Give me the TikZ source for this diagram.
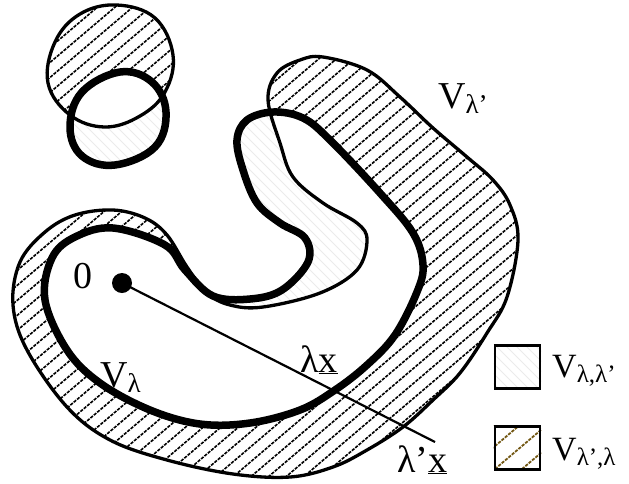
\documentclass[tikz,border=0pt]{standalone}
\usepackage{fontspec}
\setmainfont{Liberation Serif}
\definecolor{hbrown}{RGB}{115,88,20}
\begin{document}
\begin{tikzpicture}[x=1pt,y=-1pt]
\tikzset{
  thinb/.style={line width=3.3pt, line join=round},
  thickb/.style={line width=7.5pt, line join=round},
  hatchline/.style={line width=1.6pt, dash pattern=on 3.2pt off 1.2pt},
  faintline/.style={line width=0.8pt, draw=black!8},
  brownline/.style={line width=1.8pt, draw=hbrown, dash pattern=on 3.2pt off 1.2pt},
  legbox/.style={draw, line width=2.6pt, minimum width=45pt, minimum height=43pt, inner sep=0pt},
  lbl/.style={anchor=base west, inner sep=0pt, font=\fontsize{38}{38}\selectfont},
  lgl/.style={anchor=base west, inner sep=0pt, font=\fontsize{34}{34}\selectfont},
}
\newcommand{\sbm}[1]{\raisebox{-5pt}{\fontsize{27}{27}\selectfont #1}}
\newcommand{\sbl}[1]{\raisebox{-5pt}{\fontsize{25}{25}\selectfont #1}}
\def\thinmain{plot[smooth cycle, tension=0.6] coordinates {
 (518,240) (507,297) (487,333) (460,373) (433,400) (403,427) (367,450) (333,467)
 (290,477) (233,474) (167,460) (110,440) (67,407) (27,350) (13,305) (20,262)
 (45,232) (75,215) (113,210) (145,218) (167,235) (187,267) (207,293) (230,305)
 (263,307) (320,293) (357,270) (367,240) (357,223) (323,203) (293,177) (280,143)
 (268,100) (277,73) (300,60) (323,57) (367,70) (400,97) (433,128) (467,157)
 (493,180) (510,205)}}
\def\thickmain{plot[smooth cycle, tension=0.6] coordinates {
 (113,228) (165,245) (185,270) (213,296) (250,299) (282,290) (308,262) (305,238)
 (280,223) (257,203) (243,170) (237,140) (247,120) (273,112) (303,118) (330,140)
 (380,193) (413,233) (423,265) (417,292) (395,335) (367,365) (335,390) (300,410)
 (250,423) (200,424) (150,410) (100,383) (67,350) (45,300) (52,258) (75,237)}}
\def\thinsmall{plot[smooth cycle, tension=0.65] coordinates {
 (117,5) (155,18) (173,55) (165,92) (140,116) (105,127) (70,115) (48,83) (55,42) (80,14)}}
\def\thicksmall{plot[smooth cycle, tension=0.65] coordinates {
 (120,72) (152,82) (166,112) (155,147) (115,165) (82,156) (70,127) (82,92)}}
\useasboundingbox (0,0) rectangle (629,483);
% V_lambda minus V_lambda' : faint hatch
\begin{scope}
  \clip \thickmain \thicksmall;
  \foreach \k in {-500,-490,...,640} \draw[faintline] (\k,0) -- (\k+483,483);
\end{scope}
% V_lambda' minus V_lambda : bold hatch
\begin{scope}
  \clip \thinmain \thinsmall;
  \fill[white] (0,0) rectangle (629,483);
  \foreach \k in {0,15,...,1000} \draw[hatchline] (0,\k) -- (629,\k-535);
  \fill[white] \thickmain \thicksmall;
\end{scope}
\draw[thinb] \thinmain \thinsmall;
\draw[thickb] \thickmain \thicksmall;
% origin and ray
\node[circle, fill, inner sep=0pt, minimum size=20pt] (o) at (122,283) {};
\coordinate (e) at (435,442);
\draw[line width=2.2pt] (o.center) -- (e);
% labels
\node[lbl] (zero) at (73,288) {0};
\node[lbl] (vl) at (100,387) {V\sbm{λ}};
\node[lbl] (lx) at (300,372) {λ\underline{x}};
\node[lbl] (lpx) at (397,472) {λ’\underline{x}};
\node[lbl] (vlp) at (438,108) {V\sbm{λ’}};
% legend
\node[legbox] (b1) at (517.5,367) {};
\begin{scope}
  \clip (b1.south west) rectangle (b1.north east);
  \foreach \k in {400,410,...,560} \draw[faintline] (\k,340) -- (\k+60,400);
\end{scope}
\node[legbox] (b2) at (517.5,448) {};
\begin{scope}
  \clip (b2.south west) rectangle (b2.north east);
  \foreach \k in {441,468,495,522} \draw[brownline] (\k,469) -- (\k+70,409.5);
\end{scope}
\node[legbox] at (b1) {};
\node[legbox] at (b2) {};
\node[lgl] (l1) at (552,377) {V\sbl{λ,λ’}};
\node[lgl] (l2) at (552,460) {V\sbl{λ’,λ}};
\end{tikzpicture}
\end{document}
